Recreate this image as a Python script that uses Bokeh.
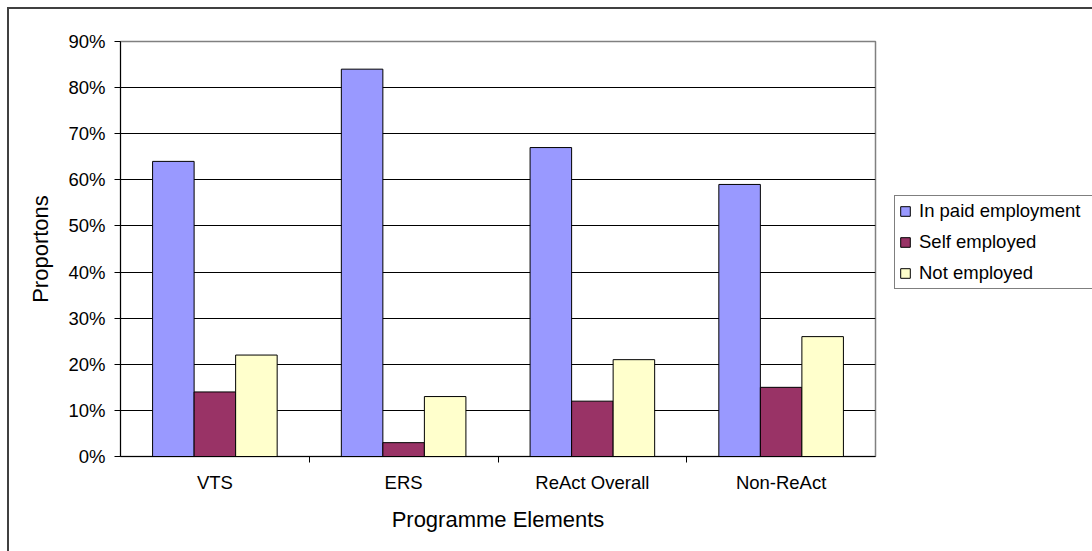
from bokeh.plotting import figure
from bokeh.layouts import row
from bokeh.models import (FactorRange, Range1d, CategoricalAxis, FixedTicker,
                          NumeralTickFormatter, Legend, LegendItem, ColumnDataSource)
from bokeh.transform import dodge
from bokeh.embed import file_html
from bokeh.resources import INLINE

# ---- data ----
categories = ["VTS", "ERS", "ReAct Overall", "Non-ReAct"]
in_paid_employment = [0.64, 0.84, 0.67, 0.59]
self_employed = [0.14, 0.03, 0.12, 0.15]
not_employed = [0.22, 0.13, 0.21, 0.26]
series_labels = ["In paid employment", "Self employed", "Not employed"]
y_ticks = [0.0, 0.1, 0.2, 0.3, 0.4, 0.5, 0.6, 0.7, 0.8, 0.9]

FONT = "Liberation Sans"
TICK_SIZE = "18.5px"
TITLE_SIZE = "22px"

src = ColumnDataSource(dict(cat=categories, paid=in_paid_employment,
                            selfe=self_employed, note=not_employed))

x_rng = FactorRange(*categories, range_padding=0)
y_rng = Range1d(y_ticks[0], y_ticks[-1])

p = figure(x_range=x_rng, y_range=y_rng,
           width=876, height=542, output_backend="svg", toolbar_location=None,
           x_axis_location=None,
           min_border_left=111, min_border_top=32, min_border_right=10, min_border_bottom=95)

p.background_fill_color = "white"
p.border_fill_color = "white"
p.outline_line_color = "#808080"
p.outline_line_width = 1.5

# bars
bw = 0.22
colors = ["#9999FF", "#993366", "#FFFFCC"]
fields = ["paid", "selfe", "note"]
offsets = [-bw, 0.0, bw]
for f, c, o in zip(fields, colors, offsets):
    p.vbar(x=dodge("cat", o, range=x_rng), top=f, width=bw, source=src,
           fill_color=c, line_color="black", line_width=1)

# y axis
yax = p.yaxis[0]
yax.ticker = FixedTicker(ticks=y_ticks)
yax.formatter = NumeralTickFormatter(format="0%")
yax.axis_line_color = "black"
yax.major_tick_line_color = "black"
yax.major_tick_in = 0
yax.major_tick_out = 6
yax.minor_tick_line_color = None
yax.major_label_text_font = FONT
yax.major_label_text_font_size = TICK_SIZE
yax.major_label_text_color = "black"
yax.major_label_standoff = 9
yax.axis_label = "Proportons"
yax.axis_label_text_font = FONT
yax.axis_label_text_font_size = TITLE_SIZE
yax.axis_label_text_font_style = "normal"
yax.axis_label_text_color = "black"
yax.axis_label_standoff = 12

# grid
p.xgrid.grid_line_color = None
p.ygrid.ticker = FixedTicker(ticks=y_ticks[1:-1])
p.ygrid.grid_line_color = "black"
p.ygrid.grid_line_width = 1

# x axis: boundary ticks via a helper factor range whose factor centres sit on the category edges
edge_factors = ["edge%d" % i for i in range(len(categories) + 1)]
p.extra_x_ranges = {"edges": FactorRange(*edge_factors, range_padding=-0.5,
                                         range_padding_units="absolute")}
edge_axis = CategoricalAxis(x_range_name="edges",
                            axis_line_color="black", major_tick_line_color="black",
                            major_tick_in=0, major_tick_out=6, minor_tick_line_color=None,
                            major_label_text_font_size="1px", major_label_text_alpha=0,
                            major_label_standoff=0)
p.add_layout(edge_axis, "below")

cat_axis = CategoricalAxis(axis_line_color=None, major_tick_line_color=None,
                           minor_tick_line_color=None,
                           major_label_text_font=FONT, major_label_text_font_size=TICK_SIZE,
                           major_label_text_color="black", major_label_standoff=3,
                           axis_label="Programme Elements", axis_label_text_font=FONT,
                           axis_label_text_font_size=TITLE_SIZE,
                           axis_label_text_font_style="normal", axis_label_text_color="black",
                           axis_label_standoff=11)
p.add_layout(cat_axis, "below")

# legend panel: a second figure placed to the right of the chart
p2 = figure(x_range=x_rng, y_range=y_rng, width=207, height=542,
            output_backend="svg", toolbar_location=None,
            x_axis_location=None, y_axis_location=None, min_border=0)
p2.outline_line_color = None
p2.background_fill_color = "white"
p2.border_fill_color = "white"
p2.xgrid.grid_line_color = None
p2.ygrid.grid_line_color = None
leg_renderers = []
for f, c, o in zip(fields, colors, offsets):
    r = p2.vbar(x=dodge("cat", o, range=x_rng), top=f, width=bw, source=src,
                fill_color=c, line_color="black", line_width=1, visible=False)
    leg_renderers.append(r)

legend = Legend(items=[LegendItem(label=l, renderers=[r]) for l, r in zip(series_labels, leg_renderers)],
                location=(9, 167), orientation="vertical",
                label_text_font=FONT, label_text_font_size=TICK_SIZE, label_text_color="black",
                glyph_width=12, glyph_height=12, label_height=20, label_width=176,
                spacing=9, padding=4, margin=0, label_standoff=8,
                border_line_color="black", border_line_width=1,
                background_fill_color="white", background_fill_alpha=1)
p2.add_layout(legend, "center")

layout = row(p, p2, spacing=0,
             styles={"margin-left": "7px", "margin-top": "7px",
                     "border-left": "2px solid #404040", "border-top": "2px solid #404040"})

open("out.html", "w").write(file_html(layout, INLINE))
